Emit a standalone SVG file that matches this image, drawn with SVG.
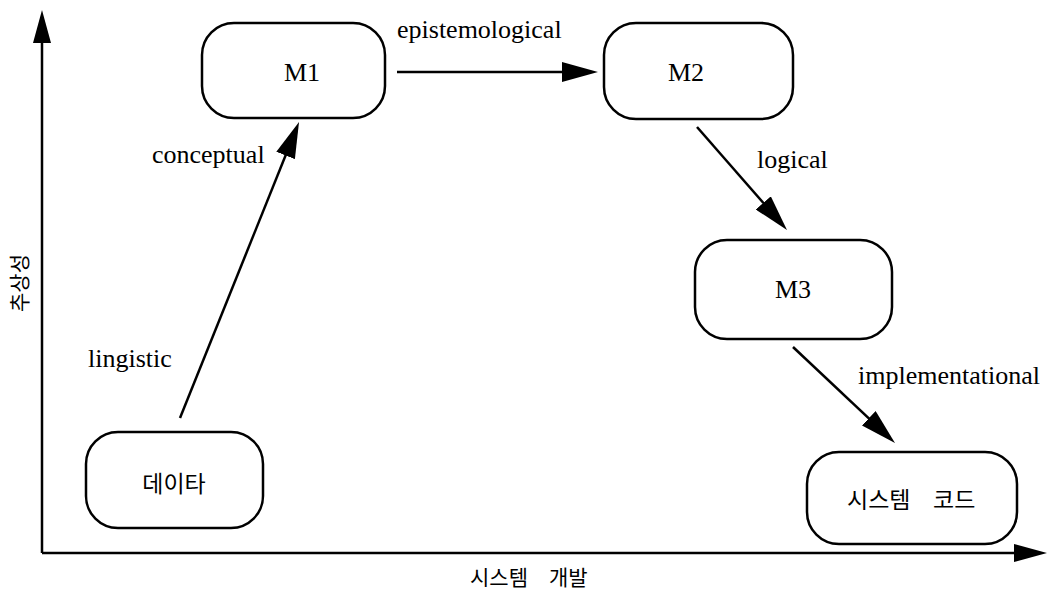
<svg xmlns="http://www.w3.org/2000/svg" width="1057" height="592" viewBox="0 0 1057 592">
<style>
.node{fill:#fff;stroke:#000;stroke-width:2.5}
.lbl{font-family:"Liberation Serif","Times New Roman",serif;font-size:26px;fill:#000}
.kr{font-family:"Noto Sans CJK KR",sans-serif;font-size:23px;fill:#000}
.ax{font-family:"Noto Sans CJK KR",sans-serif;font-size:21px;fill:#000}
.edge{stroke:#000;stroke-width:2.5;fill:none}
</style>
<defs>
<marker id="ah" markerUnits="userSpaceOnUse" markerWidth="36" markerHeight="20" refX="26" refY="10" orient="auto">
<path d="M0,0 L36,10 L0,20 z" fill="#000"/>
</marker>
<marker id="axh" markerUnits="userSpaceOnUse" markerWidth="33" markerHeight="20" refX="23" refY="10" orient="auto">
<path d="M0,1 L33,10 L0,19 z" fill="#000"/>
</marker>
</defs>
<rect width="1057" height="592" fill="#fff"/>
<g id="axes">
<line class="edge" x1="42" y1="553" x2="42" y2="20" marker-end="url(#axh)"/>
<line class="edge" x1="42" y1="553" x2="1037" y2="553" marker-end="url(#axh)"/>
<text class="ax" x="470" y="585">시스템</text>
<text class="ax" x="549" y="585">개발</text>
<text class="ax" transform="translate(27,283) rotate(-90)" text-anchor="middle">추상성</text>
</g>
<g id="connectors">
<line class="edge" x1="180" y1="418" x2="295.3" y2="131.3" marker-end="url(#ah)"/>
<line class="edge" x1="397" y1="72" x2="588" y2="72" marker-end="url(#ah)"/>
<line class="edge" x1="697" y1="127" x2="780.4" y2="222.5" marker-end="url(#ah)"/>
<line class="edge" x1="793" y1="347" x2="887.7" y2="436.1" marker-end="url(#ah)"/>
<text class="lbl" x="88" y="367">lingistic</text>
<text class="lbl" x="152" y="163">conceptual</text>
<text class="lbl" x="397" y="38">epistemological</text>
<text class="lbl" x="757" y="168">logical</text>
<text class="lbl" x="858" y="384">implementational</text>
</g>
<g id="data">
<rect class="node" x="86" y="432" width="177" height="96" rx="32"/>
<text class="kr" x="174" y="492" text-anchor="middle">데이타</text>
</g>
<g id="m1">
<rect class="node" x="202" y="23" width="183" height="95" rx="32"/>
<text class="lbl" x="302" y="81" text-anchor="middle">M1</text>
</g>
<g id="m2">
<rect class="node" x="604" y="23" width="189" height="96" rx="32"/>
<text class="lbl" x="686" y="81" text-anchor="middle">M2</text>
</g>
<g id="m3">
<rect class="node" x="695" y="240" width="197" height="99" rx="32"/>
<text class="lbl" x="793" y="298" text-anchor="middle">M3</text>
</g>
<g id="code">
<rect class="node" x="807" y="452" width="210" height="92" rx="32"/>
<text class="kr" x="847" y="508">시스템</text>
<text class="kr" x="933" y="508">코드</text>
</g>
</svg>
